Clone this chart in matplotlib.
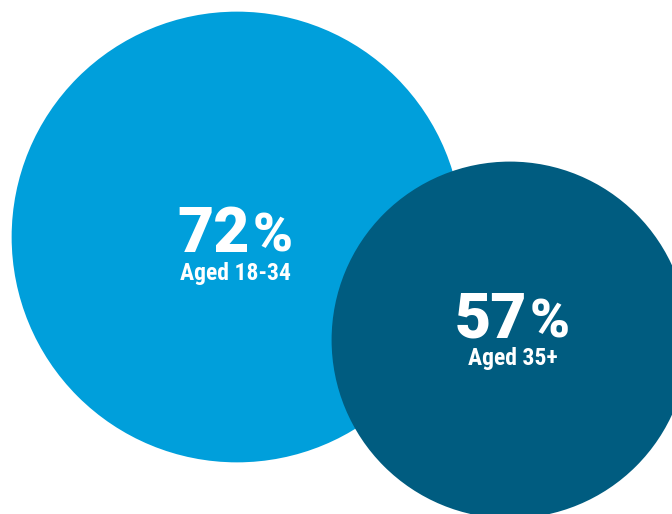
import matplotlib.pyplot as plt
from matplotlib.patches import Circle

# Share of each age group
values = [72, 57]
labels = ['Aged 18-34', 'Aged 35+']
colors = ['#009fdb', '#005c80']

# layout in pixels (axes span the whole figure, 1 unit = 1 px)
centers = [(237, 237), (510, 340)]
text_offset = [(-1, 0), (3, -18)]
px_per_point = 3.13  # circle radius in pixels per percentage point

fig = plt.figure(figsize=(6.72, 5.14), dpi=100)
ax = fig.add_axes([0, 0, 1, 1])
ax.set_xlim(0, 672)
ax.set_ylim(514, 0)
ax.set_aspect('equal')
ax.axis('off')

num_font = ['Roboto', 'DejaVu Sans']
lab_font = ['Roboto Condensed', 'Roboto', 'DejaVu Sans']

for val, lab, col, (cx, cy), (dx, dy) in zip(values, labels, colors, centers, text_offset):
    ax.add_patch(Circle((cx, cy), val * px_per_point, color=col, lw=0))
    tx, ty = cx + dx, cy + dy
    ax.text(tx + 14, ty + 15, str(val), ha='right', va='baseline',
            fontsize=45, fontweight='heavy', color='white', family=num_font)
    ax.text(tx + 17, ty + 15, '%', ha='left', va='baseline',
            fontsize=39, fontweight='heavy', color='white', family=num_font)
    ax.text(tx, ty + 43, lab, ha='center', va='baseline',
            fontsize=17, fontweight='bold', color='white', family=lab_font)

fig.savefig('out.png', dpi=100)
